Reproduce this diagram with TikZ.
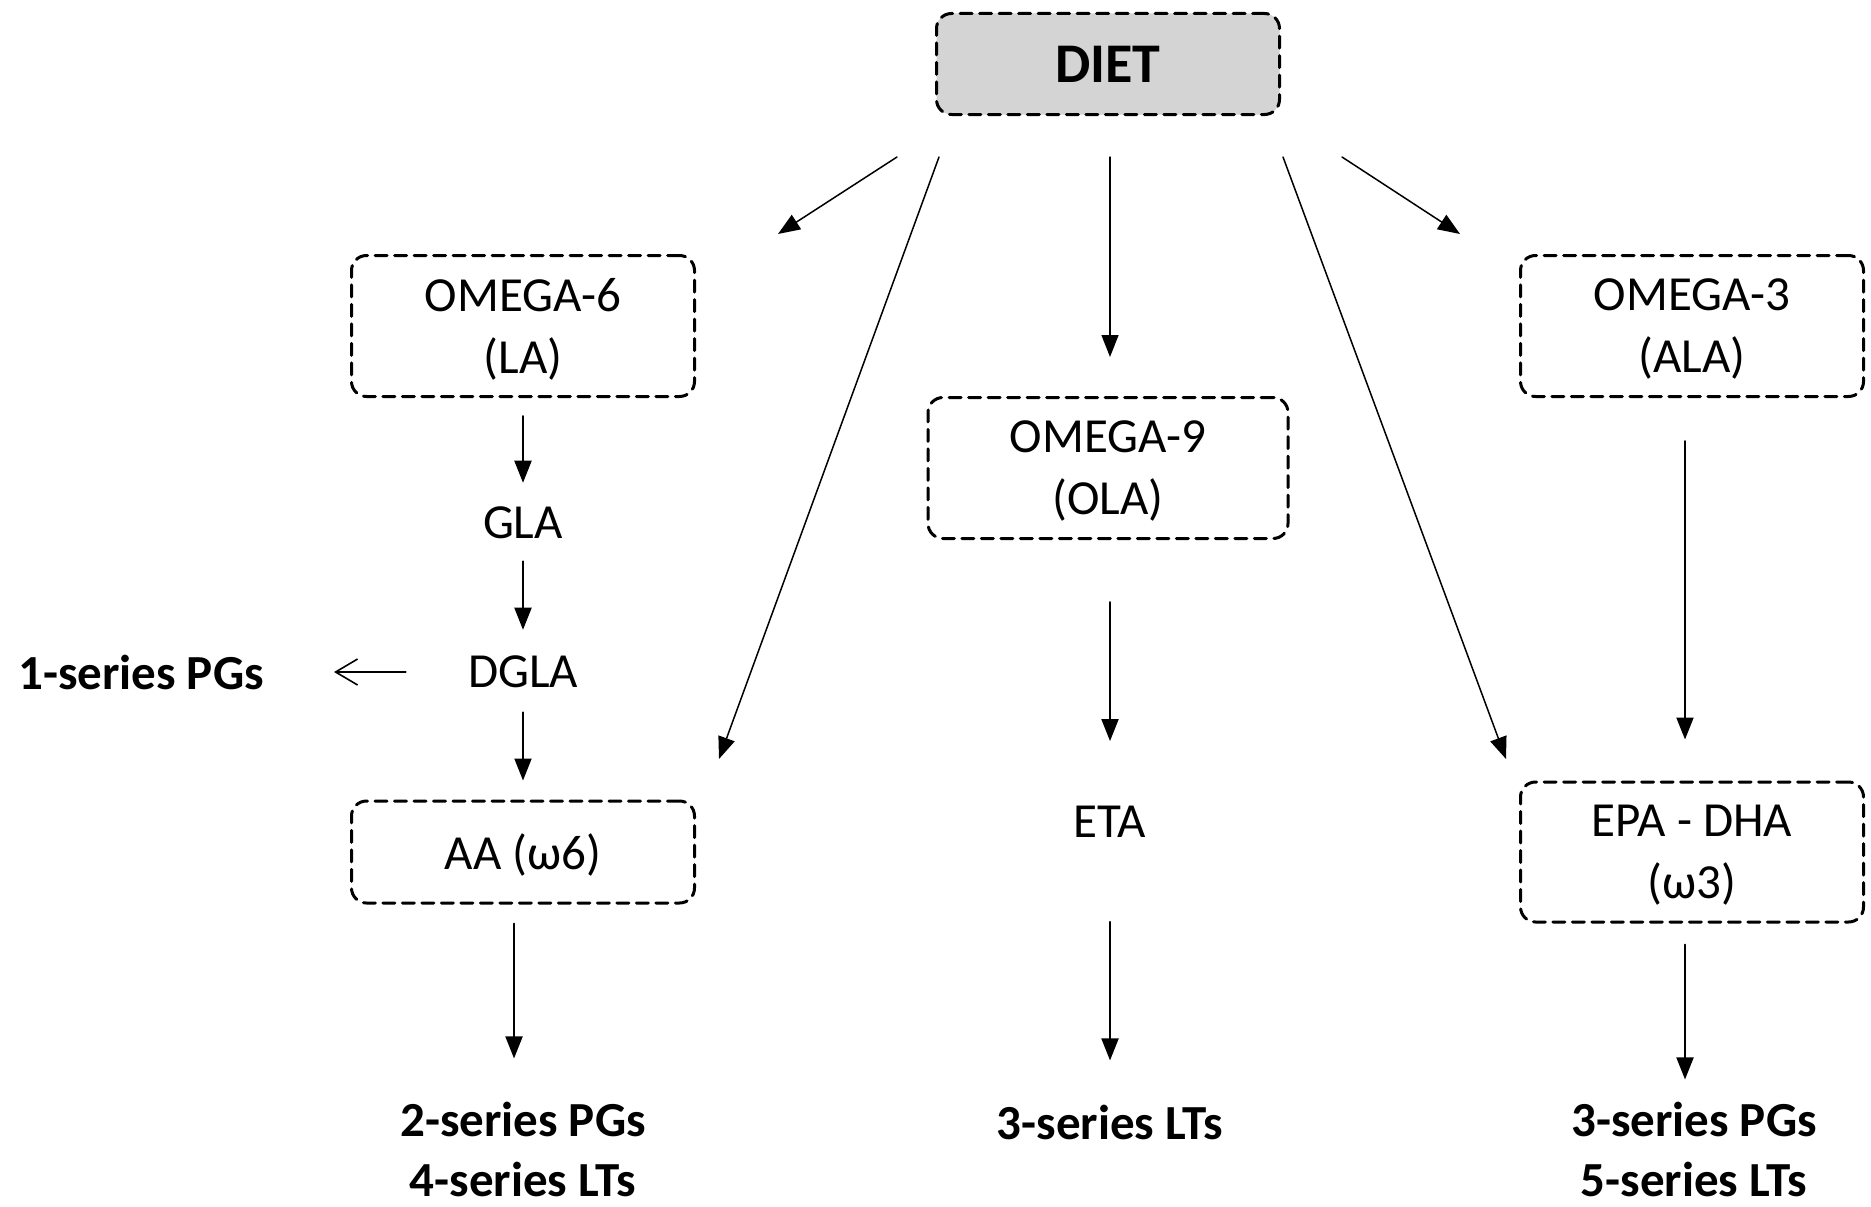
\documentclass[tikz,border=0pt]{standalone}
\usepackage{fontspec}
\setmainfont{Carlito}
\usetikzlibrary{arrows.meta}

\tikzset{
  fabox/.style={draw, line width=3pt, dash pattern=on 12pt off 7.5pt,
    rounded corners=15pt, minimum width=343pt, minimum height=141pt,
    align=center, inner sep=0pt, text depth=0pt, font=\fontsize{49}{62}\selectfont},
  falbl/.style={align=center, inner sep=0pt, font=\fontsize{49}{62}\selectfont},
  eicos/.style={align=center, inner sep=0pt, font=\bfseries\fontsize{49}{60}\selectfont},
  flow/.style={-{Triangle[length=22pt,width=17pt]}, line width=2pt},
  thinflow/.style={-{Triangle[length=22pt,width=17pt]}, line width=1.5pt},
  openflow/.style={-{Straight Barb[length=22pt,width=26pt]}, line width=1.6pt}
}

\begin{document}
\begin{tikzpicture}[line cap=round,line join=round,x=1pt,y=-1pt]
\useasboundingbox (0,0) rectangle (1871,1207);

% boxes
\node[fabox, fill={rgb,255:red,212;green,212;blue,212}, minimum height=101pt,
  font=\bfseries\fontsize{56}{62}\selectfont] (diet) at (1108,64) {DIET};
\node[fabox] (omega6) at (523,326) {OMEGA-6\\(LA)};
\node[fabox, minimum width=360pt] (omega9) at (1108,468) {OMEGA-9\\(OLA)};
\node[fabox] (omega3) at (1692,326) {OMEGA-3\\(ALA)};
\node[fabox, minimum height=102pt] (aa) at (523,852) {AA (ω6)};
\node[fabox, minimum height=140pt] (epa) at (1692,852) {EPA - DHA\\(ω3)};

% labels
\node[falbl] (gla) at (523,523) {GLA};
\node[falbl] (dgla) at (523,672) {DGLA};
\node[falbl] (eta) at (1110,822) {ETA};
\node[eicos] (pg1) at (141,672) {1-series PGs};
\node[eicos] (out6) at (523,1149) {2-series PGs\\4-series LTs};
\node[eicos] (out9) at (1110,1122) {3-series LTs};
\node[eicos] (out3) at (1694,1149) {3-series PGs\\5-series LTs};

% free ends of the diet arrows
\coordinate (to6) at (778,234);
\coordinate (toaa) at (719,759);
\coordinate (toepa) at (1506,759);
\coordinate (to3) at (1460,234);

% from diet
\draw[thinflow] ([shift={(-211,41)}]diet.south) -- (to6);
\draw[thinflow] ([shift={(-169,41)}]diet.south) -- (toaa);
\draw[thinflow, shorten <=41pt, shorten >=39pt] ([xshift=2pt]diet.south) -- ([xshift=2pt]omega9.north);
\draw[thinflow] ([shift={(175,41)}]diet.south) -- (toepa);
\draw[thinflow] ([shift={(234,41)}]diet.south) -- (to3);

% omega-6 chain
\draw[flow, shorten <=18pt, shorten >=24pt] (omega6.south) -- (gla.north);
\draw[flow, shorten <=22pt, shorten >=26pt] (gla.south) -- (dgla.north);
\draw[flow, shorten <=24pt, shorten >=19pt] (dgla.south) -- (aa.north);
\draw[openflow, shorten <=62pt, shorten >=70pt] (dgla.west) -- (pg1.east);
\draw[flow, shorten <=19pt, shorten >=43pt] ([xshift=-9pt]aa.south) -- ([xshift=-9pt]out6.north);

% omega-9 chain
\draw[flow, shorten <=62pt, shorten >=65pt] ([xshift=2pt]omega9.south) -- (eta.north);
\draw[flow, shorten <=84pt, shorten >=44pt] (eta.south) -- (out9.north);

% omega-3 chain
\draw[flow, shorten <=43pt, shorten >=41pt] ([xshift=-7pt]omega3.south) -- ([xshift=-7pt]epa.north);
\draw[flow, shorten <=21pt, shorten >=22pt] ([xshift=-7pt]epa.south) -- ([xshift=-9pt]out3.north);
\end{tikzpicture}
\end{document}
